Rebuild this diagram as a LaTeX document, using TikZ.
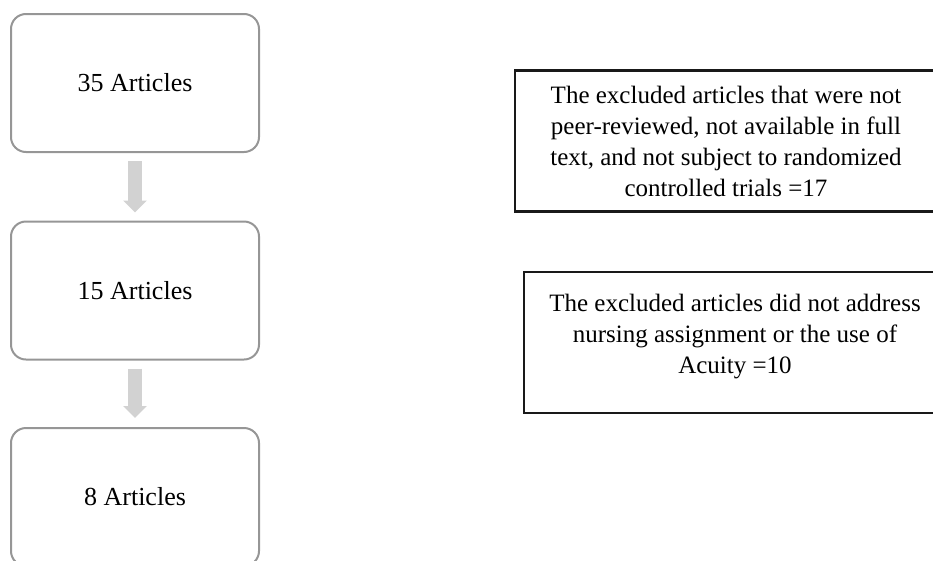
\documentclass[tikz,border=0pt]{standalone}
\usepackage{fontspec}
\setmainfont{Liberation Serif}
\usetikzlibrary{arrows.meta}

\definecolor{boxgray}{RGB}{150,150,150}
\definecolor{arrowgray}{RGB}{210,210,210}
\definecolor{framecol}{RGB}{25,25,25}

\tikzset{
  artbox/.style={draw=boxgray, line width=2pt, rounded corners=15pt,
    minimum width=248pt, minimum height=138pt, outer sep=0pt,
    font=\fontsize{26}{31}\selectfont},
  exbox/.style={draw=framecol, line width=2.4pt, minimum width=422pt,
    minimum height=141pt, outer sep=0pt, align=center,
    font=\fontsize{25}{31}\selectfont},
  extext/.style={align=center, inner sep=0pt,
    font=\fontsize{25}{31}\selectfont},
  grayarrow/.style={draw=arrowgray, line width=14pt,
    -{Triangle[width=23pt,length=12pt]}}
}

\begin{document}
\begin{tikzpicture}[x=1pt,y=-1pt]

\useasboundingbox (0,0) rectangle (933,560);
\clip (0,0) rectangle (933,560);

% Articles
\node[artbox] (a35) at (135,83) {35 Articles};
\node[artbox] (a15) at (135,290.5) {15 Articles};
\node[artbox] (a8) at (135,497) {8 Articles};

% Arrows
\draw[grayarrow] ([yshift=-9pt]a35.south) -- ([yshift=9pt]a15.north);
\draw[grayarrow] ([yshift=-9pt]a15.south) -- ([yshift=10pt]a8.north);

% Excluded
\node[exbox] (ex17) at (726,141) {The excluded articles that were not\\
  peer-reviewed, not available in full\\
  text, and not subject to randomized\\
  controlled trials =17};
\node[exbox] (ex10) at (735,342.5) {};
\node[extext] (ex10txt) at ([yshift=5.5pt]ex10.center) {The excluded articles did not address\\
  nursing assignment or the use of\\
  Acuity =10};

\end{tikzpicture}
\end{document}
